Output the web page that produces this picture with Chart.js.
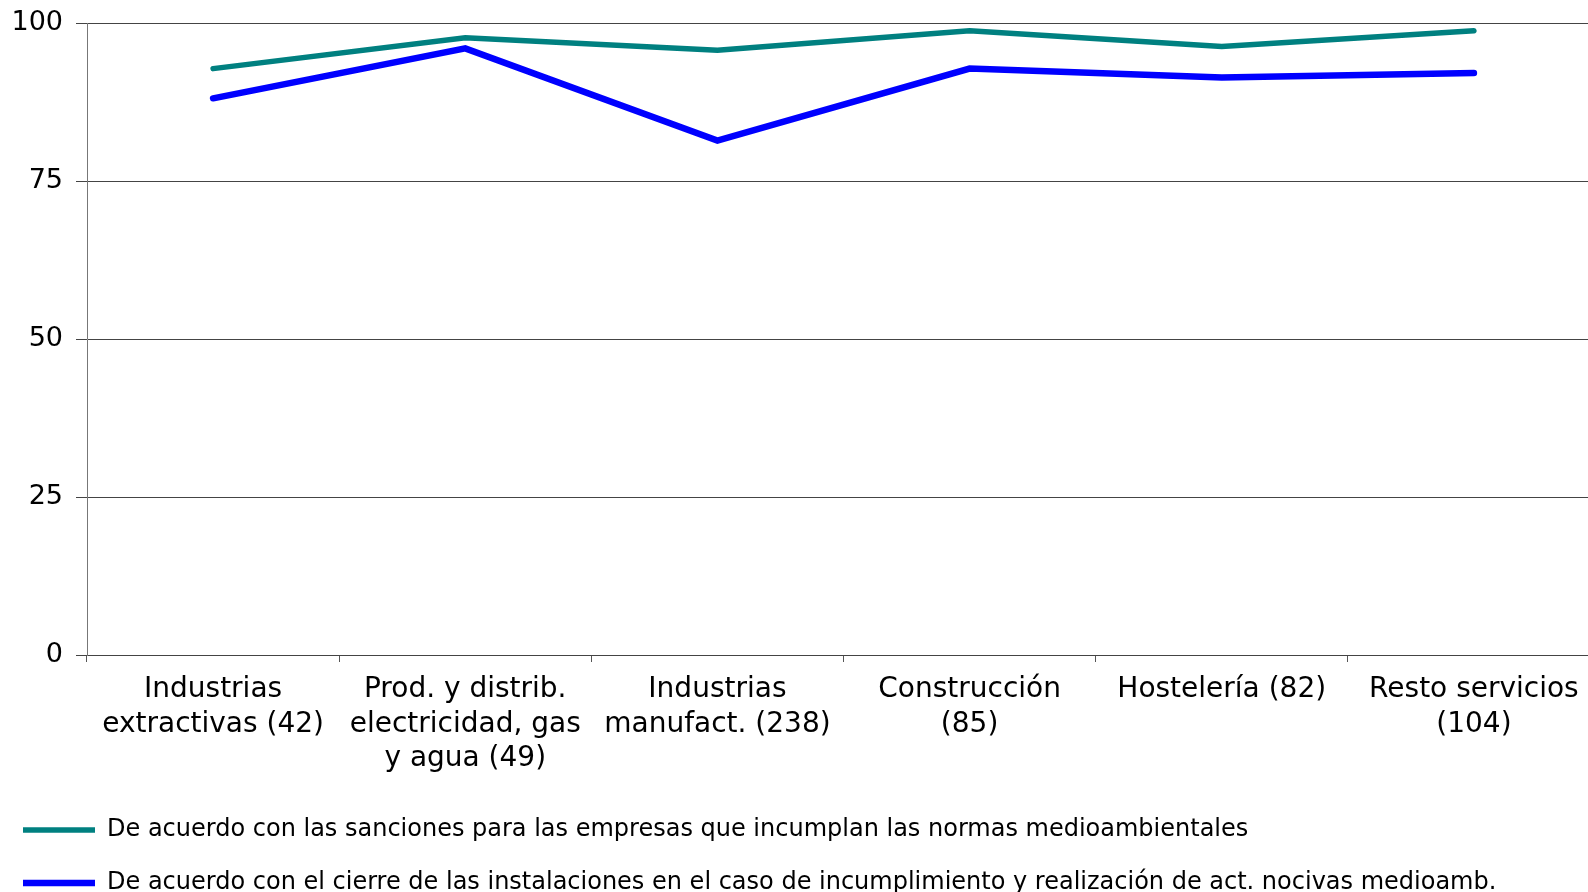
<!DOCTYPE html>
<html>
<head>
<meta charset="utf-8">
<script src="https://cdn.jsdelivr.net/npm/chart.js@4.4.1/dist/chart.umd.min.js"></script>
<style>
  html, body { margin: 0; padding: 0; background: #fff; overflow: hidden; }
  #wrap { position: absolute; left: 0; top: 0; }
</style>
</head>
<body>
<div id="wrap"><canvas id="lineChart" width="1600" height="905"></canvas></div>
<script>
// sectors (number of firms in brackets)
const categories = [
  ['Industrias', 'extractivas (42)'],
  ['Prod. y distrib.', 'electricidad, gas', 'y agua (49)'],
  ['Industrias', 'manufact. (238)'],
  ['Construcción', '(85)'],
  ['Hostelería (82)'],
  ['Resto servicios', '(104)']
];
const sancionesLabel = 'De acuerdo con las sanciones para las empresas que incumplan las normas medioambientales';
const cierreLabel = 'De acuerdo con el cierre de las instalaciones en el caso de incumplimiento y realización de act. nocivas medioamb.';
const sancionesValues = [92.8, 97.7, 95.7, 98.8, 96.3, 98.8];
const cierreValues = [88.1, 96.0, 81.4, 92.8, 91.4, 92.1];
const yTicks = [0, 25, 50, 75, 100];

Chart.defaults.font.family = "'DejaVu Sans', sans-serif";
Chart.defaults.color = '#000';

const ctx = document.getElementById('lineChart').getContext('2d');
new Chart(ctx, {
  type: 'line',
  data: {
    labels: categories,
    datasets: [
      {
        label: sancionesLabel,
        data: sancionesValues,
        borderColor: '#008080',
        backgroundColor: '#008080',
        borderWidth: 5.5,
        borderCapStyle: 'round',
        pointRadius: 0,
        pointStyle: 'line',
        tension: 0,
        fill: false
      },
      {
        label: cierreLabel,
        data: cierreValues,
        borderColor: '#0000ff',
        backgroundColor: '#0000ff',
        borderWidth: 6.5,
        borderCapStyle: 'round',
        pointRadius: 0,
        pointStyle: 'line',
        tension: 0,
        fill: false
      }
    ]
  },
  options: {
    responsive: false,
    animation: false,
    layout: {
      padding: { top: 23, left: -6, right: 0, bottom: 0 }
    },
    scales: {
      x: {
        offset: true,
        grid: {
          offset: true,
          drawOnChartArea: false,
          color: '#555',
          tickLength: 7
        },
        border: { color: '#444' },
        ticks: {
          font: { size: 28, lineHeight: 1.22 },
          padding: 11,
          maxRotation: 0,
          autoSkip: false
        },
        afterFit: (scale) => { scale.height = 134; }
      },
      y: {
        min: 0,
        max: 100,
        afterBuildTicks: (axis) => { axis.ticks = yTicks.map(v => ({ value: v })); },
        grid: {
          color: '#444',
          tickLength: 11
        },
        border: { color: '#777' },
        ticks: {
          font: { size: 27, lineHeight: 0.75 },
          padding: 13
        },
        afterFit: (scale) => { scale.width = 93; }
      }
    },
    plugins: {
      tooltip: { enabled: false },
      legend: {
        position: 'bottom',
        align: 'start',
        labels: {
          usePointStyle: true,
          pointStyle: 'line',
          pointStyleWidth: 72,
          font: { size: 24 },
          padding: 29,
          color: '#000'
        }
      }
    }
  }
});
</script>
</body>
</html>
